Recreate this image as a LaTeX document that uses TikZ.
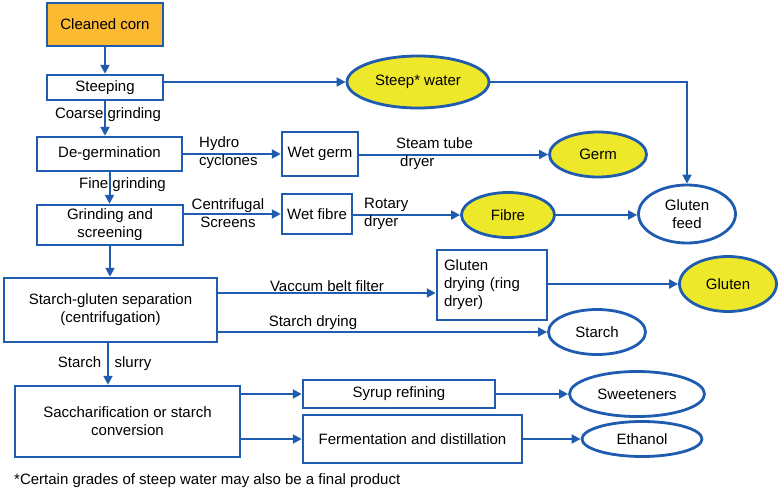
\documentclass[tikz,border=0pt]{standalone}
\usepackage{fontspec}
\setmainfont{Liberation Sans}
\usetikzlibrary{shapes.geometric,arrows.meta}
\definecolor{lb}{HTML}{1F5CB0}
\definecolor{yel}{HTML}{EDE82A}
\definecolor{org}{HTML}{FBBA32}
\tikzset{
  box/.style={draw=lb,line width=2.5pt,rectangle,inner sep=2pt,align=center,font=\fontsize{15}{18}\selectfont},
  oval/.style={draw=lb,line width=2.8pt,ellipse,inner sep=0pt,align=center,font=\fontsize{15}{18}\selectfont},
  lbl/.style={inner sep=0pt,font=\fontsize{15}{18}\selectfont},
  conn/.style={draw=lb,line width=2pt,-{Triangle[length=9pt,width=9pt]}},
}
\begin{document}
\begin{tikzpicture}[x=1pt,y=-1pt]
\useasboundingbox (0,0) rectangle (779,496);
% boxes
\node[box,fill=org,minimum width=116pt,minimum height=43pt] (corn) at (105,24.5) {Cleaned corn};
\node[box,minimum width=116pt,minimum height=25pt] (steep) at (105,87.5) {Steeping};
\node[box,minimum width=145pt,minimum height=34pt] (degerm) at (109.5,154) {De-germination};
\node[box,minimum width=146pt,minimum height=40pt] (grind) at (110,225) {Grinding and\\screening};
\node[box,minimum width=213pt,minimum height=64pt] (sgsep) at (110.5,310) {Starch-gluten separation\\(centrifugation)};
\node[box,minimum width=225pt,minimum height=71pt] (sacch) at (127.5,421.5) {Saccharification or starch\\conversion};
\node[box,minimum width=76pt,minimum height=44pt] (wetgerm) at (320,154) {Wet germ};
\node[box,minimum width=70pt,minimum height=40pt] (wetfibre) at (317,214) {Wet fibre};
\node[box,minimum width=110pt,minimum height=70pt,align=left,text width=96pt] (glutdry) at (492,285) {Gluten\\drying (ring\\dryer)};
\node[box,minimum width=192pt,minimum height=28pt] (syrup) at (399,394) {Syrup refining};
\node[box,minimum width=219pt,minimum height=48pt] (ferm) at (412.5,439) {Fermentation and distillation};
% ellipses
\node[oval,fill=yel,minimum width=142pt,minimum height=52pt] (steepw) at (418,82) {Steep* water};
\node[oval,fill=yel,minimum width=97pt,minimum height=45pt] (germ) at (598,154.5) {Germ};
\node[oval,fill=yel,minimum width=93pt,minimum height=45pt] (fibre) at (508,215) {Fibre};
\node[oval,fill=white,minimum width=97pt,minimum height=58pt] (glutfeed) at (687,214) {Gluten\\feed};
\node[oval,fill=yel,minimum width=97pt,minimum height=55pt] (gluten) at (728,284) {Gluten};
\node[oval,minimum width=97pt,minimum height=45pt] (starch) at (597,332) {Starch};
\node[oval,minimum width=135pt,minimum height=45pt] (sweet) at (637,394) {Sweeteners};
\node[oval,minimum width=120pt,minimum height=35pt] (ethanol) at (642,439) {Ethanol};
% connectors
\draw[conn] (corn.south) -- (steep.north);
\draw[conn] (steep.south) -- (steep.south |- degerm.north);
\draw[conn] (degerm.south) -- (degerm.south |- grind.north);
\draw[conn] (grind.south) -- (grind.south |- sgsep.north);
\coordinate (ss) at ([xshift=-2.5pt]sgsep.south);
\draw[conn] (ss) -- (ss |- sacch.north);
\draw[conn] (steepw.west -| steep.east) -- (steepw.west);
\draw[conn] (steepw.east) -| (glutfeed.north);
\draw[conn] (degerm.east) -- (wetgerm.west);
\draw[conn] (germ.west -| wetgerm.east) -- (germ.west);
\draw[conn] (wetfibre.west -| grind.east) -- (wetfibre.west);
\draw[conn] (fibre.west -| wetfibre.east) -- (fibre.west);
\draw[conn] (fibre.east) -- (fibre.east -| glutfeed.west);
\coordinate (vb) at ([yshift=17pt]sgsep.east);
\draw[conn] (vb) -- (vb -| glutdry.west);
\draw[conn] (starch.west -| sgsep.east) -- (starch.west);
\draw[conn] (gluten.west -| glutdry.east) -- (gluten.west);
\draw[conn] (syrup.west -| sacch.east) -- (syrup.west);
\draw[conn] (ferm.west -| sacch.east) -- (ferm.west);
\draw[conn] (sweet.west -| syrup.east) -- (sweet.west);
\draw[conn] (ethanol.west -| ferm.east) -- (ethanol.west);
% labels
\node[lbl] (l1) at (108,115) {Coarse grinding};
\node[lbl] (l2) at (122.5,185) {Fine grinding};
\node[lbl,align=left,anchor=west] (l3) at (199,153) {Hydro\\cyclones};
\node[lbl,align=center] (l4) at (228,213) {Centrifugal\\Screens};
\node[lbl,align=left,anchor=west] (l5) at (396,154) {Steam tube\\\hspace*{4pt}dryer};
\node[lbl,align=left,anchor=west] (l6) at (364,214) {Rotary\\dryer};
\node[lbl] (l7) at (327,286) {Vaccum belt filter};
\node[lbl] (l8) at (313,323) {Starch drying};
\node[lbl,anchor=base] (l9) at (79.5,367) {Starch};
\node[lbl,anchor=base] (l10) at (133,367) {slurry};
\node[lbl,anchor=west] (foot) at (14,481) {*Certain grades of steep water may also be a final product};
\end{tikzpicture}
\end{document}
